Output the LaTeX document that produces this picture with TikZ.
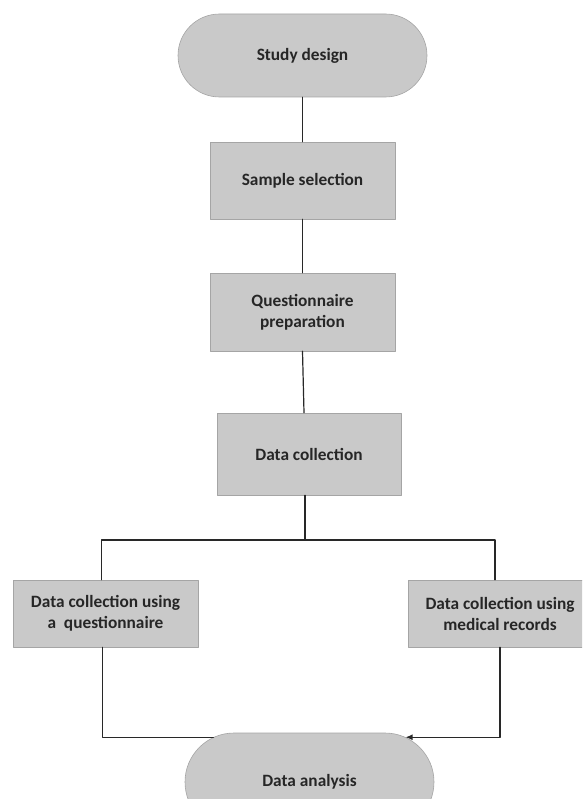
\documentclass[tikz,border=0pt]{standalone}
\usepackage{fontspec}
\setmainfont{Carlito}
\usetikzlibrary{shapes.misc,arrows.meta}
\definecolor{boxgray}{RGB}{201,201,201}
\definecolor{edgegray}{RGB}{165,165,165}
\definecolor{linegray}{RGB}{40,40,40}
\tikzset{
  stepbox/.style={draw=edgegray,line width=0.6pt,fill=boxgray,align=center,
    font=\fontsize{17.3}{21}\selectfont\bfseries,text=black!85,inner sep=0pt},
  termbox/.style={stepbox,rounded rectangle},
  link/.style={draw=linegray,line width=1.2pt}
}
\begin{document}
\begin{tikzpicture}[x=1pt,y=-1pt,line cap=round,line join=round,>={Latex[length=7pt,width=6pt]}]
  \clip (0,0) rectangle (582,799);
  \node[termbox,minimum width=249pt,minimum height=83pt] (study) at (302.5,55.5) {Study design};
  \node[stepbox,minimum width=185pt,minimum height=77pt] (sample) at (302.5,180.5) {Sample selection};
  \node[stepbox,minimum width=185pt,minimum height=78pt] (quest) at (302.5,312) {Questionnaire\\preparation};
  \node[stepbox,minimum width=184pt,minimum height=82pt] (dcoll) at (309,454) {Data collection};
  \node[stepbox,minimum width=185pt,minimum height=67pt] (dquest) at (105.5,613.5) {Data collection using\\a\ \ questionnaire};
  \node[stepbox,minimum width=184pt,minimum height=67pt] (dmed) at (500,613.5) {Data collection using\\medical records};
  \node[termbox,minimum width=249pt,minimum height=98pt] (analysis) at (309.5,782) {Data analysis};
  \coordinate (split) at (305,540);
  % links
  \draw[link] (study.south) -- (sample.north);
  \draw[link] (sample.south) -- (quest.north);
  \draw[link] (quest.south) -- ([xshift=1.5pt]quest.south |- dcoll.north);
  \draw[link] (split |- dcoll.south) -- (split);
  \draw[link] ([xshift=-4pt]dquest.north) |- (split) -| ([xshift=-5pt]dmed.north);
  \draw[link] ([xshift=-3pt]dquest.south) |- (analysis.155);
  \draw[link,->] (dmed.south) |- (analysis.25);
\end{tikzpicture}
\end{document}
